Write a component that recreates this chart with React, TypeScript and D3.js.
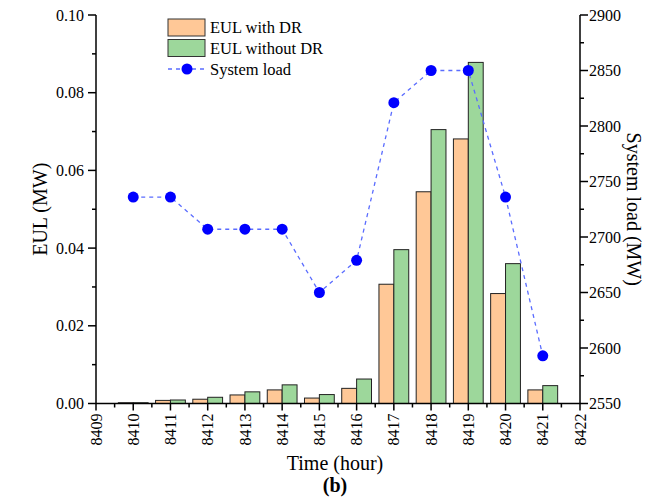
import React from "react";
import * as d3 from "d3";

const hours = [8410, 8411, 8412, 8413, 8414, 8415, 8416, 8417, 8418, 8419, 8420, 8421];
const eulWithDR = [0.0002, 0.0008, 0.0011, 0.0022, 0.0035, 0.0014, 0.0039, 0.0307, 0.0545, 0.0681, 0.0283, 0.0035];
const eulWithoutDR = [0.0002, 0.0009, 0.0016, 0.003, 0.0048, 0.0023, 0.0063, 0.0396, 0.0705, 0.0878, 0.036, 0.0046];
const systemLoad = [2736, 2736, 2707, 2707, 2707, 2650, 2679, 2821, 2850, 2850, 2736, 2593];
const xTicks = d3.range(8409, 8423);
const leftTicks = [0, 0.02, 0.04, 0.06, 0.08, 0.1];
const rightTicks = [2550, 2600, 2650, 2700, 2750, 2800, 2850, 2900];

const W = 659, H = 498;
const L = 96, R = 580, T = 15, B = 403.5;
const FONT = "'Liberation Serif', 'Times New Roman', serif";
const ORANGE = "#ffc897";
const GREEN = "#9dd79b";

export default function App() {
  const x = d3.scaleLinear().domain([8409, 8422]).range([L, R]);
  const yL = d3.scaleLinear().domain([0, 0.1]).range([B, T]);
  const yR = d3.scaleLinear().domain([2550, 2900]).range([B, T]);
  const bw = x(8409.4) - x(8409);
  const line = d3.line<number>().x((_, i) => x(hours[i])).y((d) => yR(d));
  const leftMinor = d3.range(0.01, 0.1, 0.02);
  const rightMinor = d3.range(2575, 2900, 50);
  const xMinor = d3.range(8409.5, 8422, 1);

  return (
    <svg width={W} height={H} style={{ position: "absolute", left: 0, top: 0, background: "#fff" }} fontFamily={FONT}>
      {/* bars */}
      {hours.map((h, i) => (
        <g key={h}>
          <rect x={x(h) - bw} y={yL(eulWithDR[i])} width={bw} height={B - yL(eulWithDR[i])} fill={ORANGE} stroke="#222" strokeWidth={1} />
          <rect x={x(h)} y={yL(eulWithoutDR[i])} width={bw} height={B - yL(eulWithoutDR[i])} fill={GREEN} stroke="#222" strokeWidth={1} />
        </g>
      ))}
      {/* system load line */}
      <path d={line(systemLoad) || ""} fill="none" stroke="#5a6cff" strokeWidth={1.3} strokeDasharray="4,4" />
      {systemLoad.map((v, i) => (
        <circle key={i} cx={x(hours[i])} cy={yR(v)} r={5.5} fill="#0000ff" />
      ))}

      {/* axes */}
      <g stroke="#000" strokeWidth={1.5} fill="none">
        <line x1={L} y1={T} x2={L} y2={B} />
        <line x1={R} y1={T} x2={R} y2={B} />
        <line x1={L} y1={B} x2={R} y2={B} />
        {leftTicks.map((t) => <line key={t} x1={L - 8} x2={L} y1={yL(t)} y2={yL(t)} />)}
        {leftMinor.map((t) => <line key={t} x1={L - 4} x2={L} y1={yL(t)} y2={yL(t)} />)}
        {rightTicks.map((t) => <line key={t} x1={R} x2={R + 8} y1={yR(t)} y2={yR(t)} />)}
        {rightMinor.map((t) => <line key={t} x1={R} x2={R + 4} y1={yR(t)} y2={yR(t)} />)}
        {xTicks.map((t) => <line key={t} x1={x(t)} x2={x(t)} y1={B} y2={B + 7} />)}
        {xMinor.map((t) => <line key={t} x1={x(t)} x2={x(t)} y1={B} y2={B + 4} />)}
      </g>

      {/* tick labels */}
      <g fontSize={16} fill="#000">
        {leftTicks.map((t) => (
          <text key={t} x={L - 12} y={yL(t)} dy="0.35em" textAnchor="end">{d3.format(".2f")(t)}</text>
        ))}
        {rightTicks.map((t) => (
          <text key={t} x={R + 9} y={yR(t)} dy="0.35em" textAnchor="start">{t}</text>
        ))}
        {xTicks.map((t) => (
          <text key={t} transform={`translate(${x(t)},${B + 10}) rotate(-90)`} dy="0.35em" textAnchor="end">{t}</text>
        ))}
      </g>

      {/* axis titles */}
      <text x={335} y={470} fontSize={20} textAnchor="middle">Time (hour)</text>
      <text x={335} y={492} fontSize={20} fontWeight="bold" textAnchor="middle">(b)</text>
      <text transform={`translate(40,${(T + B) / 2}) rotate(-90)`} dy="0.35em" fontSize={20} textAnchor="middle">EUL (MW)</text>
      <text transform={`translate(634,${(T + B) / 2}) rotate(90)`} dy="0.35em" fontSize={20} textAnchor="middle">System load (MW)</text>

      {/* legend */}
      <g fontSize={16.5}>
        <rect x={168} y={19} width={37} height={17} fill={ORANGE} stroke="#333" strokeWidth={1} />
        <text x={210} y={27.5} dy="0.35em">EUL with DR</text>
        <rect x={168} y={39.5} width={37} height={17} fill={GREEN} stroke="#333" strokeWidth={1} />
        <text x={210} y={48} dy="0.35em">EUL without DR</text>
        <line x1={168} x2={205} y1={69} y2={69} stroke="#5a6cff" strokeWidth={1.3} strokeDasharray="4,4" />
        <circle cx={187} cy={69} r={5.5} fill="#0000ff" />
        <text x={210} y={69} dy="0.35em">System load</text>
      </g>
    </svg>
  );
}
